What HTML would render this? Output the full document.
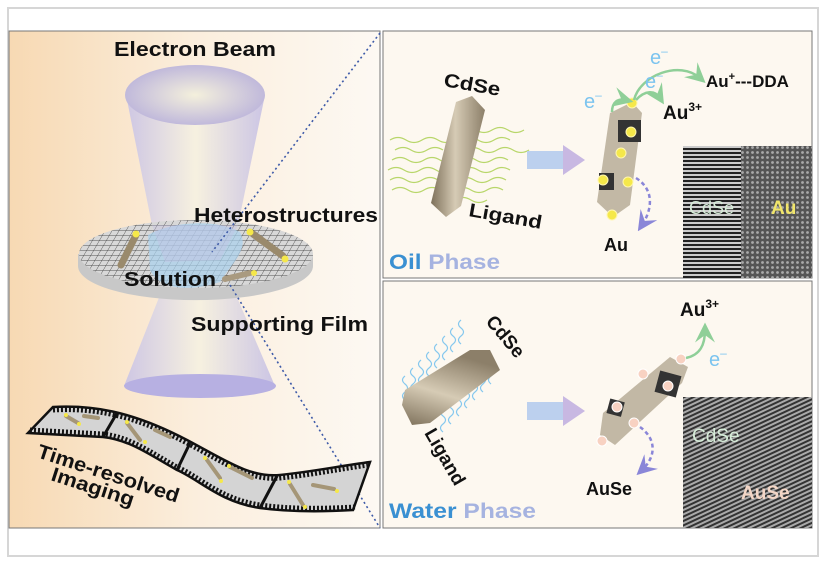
<!DOCTYPE html>
<html><head><meta charset="utf-8"><style>
html,body{margin:0;padding:0;background:#fff;}
svg{display:block;font-family:"Liberation Sans",Arial,sans-serif;font-weight:bold;}
</style></head><body>
<svg width="826" height="564" viewBox="0 0 826 564" xmlns="http://www.w3.org/2000/svg">
<defs>
<linearGradient id="lbg" x1="0" y1="0" x2="1" y2="0">
<stop offset="0" stop-color="#f7d9b3"/><stop offset="0.5" stop-color="#fbeedd"/><stop offset="1" stop-color="#fdf9f3"/></linearGradient>
<linearGradient id="beam" x1="0" y1="0" x2="1" y2="0">
<stop offset="0" stop-color="#c9c3e6"/><stop offset="0.5" stop-color="#f6f1e0"/><stop offset="1" stop-color="#c6c0e4"/></linearGradient>
<radialGradient id="topell" cx="0.5" cy="0.5" r="0.6"><stop offset="0" stop-color="#f4f0dc"/><stop offset="1" stop-color="#b6aedb"/></radialGradient>
<linearGradient id="rod" x1="0" y1="0" x2="1" y2="0">
<stop offset="0" stop-color="#7d705a"/><stop offset="0.45" stop-color="#d6cbb5"/><stop offset="1" stop-color="#8c7f69"/></linearGradient>
<linearGradient id="rod2" x1="0" y1="1" x2="0.4" y2="0">
<stop offset="0" stop-color="#7d705a"/><stop offset="0.5" stop-color="#d6cbb5"/><stop offset="1" stop-color="#8c7f69"/></linearGradient>
<pattern id="grid" width="7" height="5" patternUnits="userSpaceOnUse" patternTransform="skewX(-30)">
<rect width="7" height="5" fill="#d8d8d8"/><path d="M0 0H7M0 0V5" stroke="#444" stroke-width="0.9"/></pattern>
<pattern id="lines1" width="4" height="4" patternUnits="userSpaceOnUse"><rect width="4" height="4" fill="#ccc"/><rect width="4" height="2" fill="#222"/></pattern>
<pattern id="dots" width="5" height="5" patternUnits="userSpaceOnUse"><rect width="5" height="5" fill="#555"/><circle cx="2.5" cy="2.5" r="1.4" fill="#aaa"/></pattern>
<pattern id="diag" width="4" height="4" patternUnits="userSpaceOnUse" patternTransform="rotate(65)"><rect width="4" height="4" fill="#aaa"/><rect width="2" height="4" fill="#333"/></pattern>
<marker id="ag" markerWidth="8" markerHeight="8" refX="5" refY="4" orient="auto"><path d="M0,0 L8,4 L0,8 L3,4z" fill="#8fcf98"/></marker>
<marker id="ap" markerWidth="8" markerHeight="8" refX="5" refY="4" orient="auto"><path d="M0,0 L8,4 L0,8 L3,4z" fill="#8a86d8"/></marker>
</defs>
<rect x="8" y="8" width="810" height="548" fill="#fff" stroke="#d6d6d6" stroke-width="2"/>
<rect x="9" y="31" width="371" height="497" fill="url(#lbg)" stroke="#777" stroke-width="1"/>
<path d="M126,95 L152,225 L238,225 L265,95 Z" fill="url(#beam)" opacity="0.9"/>
<ellipse cx="195" cy="95" rx="70" ry="30" fill="url(#topell)"/>
<path d="M160,295 L124,386 L275,386 L236,295 Z" fill="url(#beam)" opacity="0.9"/>
<ellipse cx="200" cy="386" rx="76" ry="12" fill="#b7b0e2"/>
<path d="M78,254 L78,266 A117,34 0 0 0 313,266 L313,254 Z" fill="#c8c8c8"/>
<ellipse cx="196" cy="254" rx="117" ry="34" fill="url(#grid)"/>
<path d="M148,235 C170,222 215,218 240,232 C250,250 230,265 220,282 C190,292 160,290 150,270 Z" fill="#a9d2ee" opacity="0.7"/>
<path d="M152,225 L238,225 L220,260 L165,262Z" fill="#c5c0e6" opacity="0.35"/>
<g stroke-linecap="round">
<line x1="136" y1="235" x2="121" y2="265" stroke="#9a8a6c" stroke-width="7"/>
<line x1="253" y1="234" x2="283" y2="256" stroke="#9a8a6c" stroke-width="7"/>
<line x1="225" y1="279" x2="250" y2="273" stroke="#a99a80" stroke-width="6"/>
</g>
<circle cx="136" cy="234" r="3.5" fill="#f5e84a"/><circle cx="250" cy="232" r="3.5" fill="#f5e84a"/><circle cx="285" cy="259" r="3.5" fill="#f5e84a"/><circle cx="254" cy="273" r="3" fill="#f5e84a"/>
<path d="M380,33 L212,252 M230,285 L380,528" stroke="#3d5aa8" stroke-width="1.6" stroke-dasharray="2,3" fill="none"/>
<text x="114" y="56" font-size="20" fill="#111" textLength="162" lengthAdjust="spacingAndGlyphs">Electron Beam</text>
<text x="194" y="222" font-size="20" fill="#111" textLength="184" lengthAdjust="spacingAndGlyphs">Heterostructures</text>
<text x="124" y="286" font-size="20" fill="#111" textLength="92" lengthAdjust="spacingAndGlyphs">Solution</text>
<text x="191" y="331" font-size="20" fill="#111" textLength="177" lengthAdjust="spacingAndGlyphs">Supporting Film</text>
<path d="M53,407 C90,405 130,410 187,440 C225,460 250,478 280,475 C310,472 340,466 370,462 L353,510 C320,512 290,512 260,508 C220,502 200,480 177,470 C150,455 130,440 103,437 L28,433 Z" fill="#d4d4d4" stroke="#111" stroke-width="2.5"/>
<path d="M53,410 C90,408 130,413 187,443 C225,463 250,481 280,478 C310,475 340,469 368,465" fill="none" stroke="#111" stroke-width="5" stroke-dasharray="2,2"/>
<path d="M30,430 L103,434 C130,437 150,452 177,467 C200,477 220,499 260,505 C290,509 320,509 355,507" fill="none" stroke="#111" stroke-width="5" stroke-dasharray="2,2"/>
<g stroke="#111" stroke-width="3"><line x1="117" y1="413" x2="103" y2="437"/><line x1="190" y1="443" x2="177" y2="470"/><line x1="277" y1="476" x2="260" y2="508"/></g>
<g stroke="#a59677" stroke-width="4" stroke-linecap="round">
<line x1="66" y1="416" x2="78" y2="423"/><line x1="84" y1="416" x2="98" y2="418"/>
<line x1="127" y1="423" x2="140" y2="440"/><line x1="155" y1="430" x2="170" y2="437"/>
<line x1="207" y1="460" x2="220" y2="478"/><line x1="230" y1="467" x2="252" y2="478"/>
<line x1="290" y1="484" x2="303" y2="505"/><line x1="313" y1="485" x2="334" y2="489"/></g>
<g fill="#f5e84a"><circle cx="66" cy="415" r="2"/><circle cx="79" cy="424" r="2"/><circle cx="127" cy="422" r="2"/><circle cx="145" cy="442" r="2"/><circle cx="205" cy="458" r="2"/><circle cx="221" cy="481" r="2"/><circle cx="229" cy="466" r="2"/><circle cx="289" cy="482" r="2"/><circle cx="305" cy="507" r="2"/><circle cx="337" cy="491" r="2"/></g>
<text transform="translate(36,457) rotate(18)" font-size="20" fill="#111" textLength="148" lengthAdjust="spacingAndGlyphs">Time-resolved</text>
<text transform="translate(50,480) rotate(18)" font-size="20" fill="#111" textLength="86" lengthAdjust="spacingAndGlyphs">Imaging</text>

<rect x="383" y="31" width="429" height="247" fill="#fdf8f0" stroke="#777" stroke-width="1"/>
<g fill="none" stroke="#b8d66a" stroke-width="1.2">
<path d="M390,140 q8,-5 16,0 t16,0 t16,0 t16,0"/><path d="M395,150 q8,-5 16,0 t16,0 t16,0"/>
<path d="M392,160 q8,-5 16,0 t16,0 t16,0 t16,0"/><path d="M388,170 q8,-5 16,0 t16,0 t16,0 t16,0"/>
<path d="M390,180 q8,-5 16,0 t16,0 t16,0"/><path d="M392,190 q8,-5 16,0 t16,0 t16,0"/>
<path d="M460,130 q8,-5 16,0 t16,0 t16,0 t16,0"/><path d="M462,140 q8,-5 16,0 t16,0 t16,0"/>
<path d="M465,150 q8,-5 16,0 t16,0 t16,0 t16,0"/><path d="M460,160 q8,-5 16,0 t16,0 t16,0"/>
<path d="M462,170 q8,-5 16,0 t16,0 t16,0"/><path d="M458,180 q8,-5 16,0 t16,0 t16,0"/>
<path d="M455,190 q8,-5 16,0 t16,0 t16,0"/><path d="M455,200 q8,-5 16,0 t16,0"/></g>
<polygon points="456,102 472,96 485,110 461,206 446,217 431,203" fill="url(#rod)"/>
<text transform="translate(443,86) rotate(10)" font-size="19" fill="#111" textLength="57" lengthAdjust="spacingAndGlyphs">CdSe</text>
<text transform="translate(468,216) rotate(10)" font-size="19" fill="#111" textLength="74" lengthAdjust="spacingAndGlyphs">Ligand</text>
<rect x="527" y="151" width="38" height="18" fill="#bcd0ee"/><polygon points="563,145 585,160 563,175" fill="#c8b8e2"/>
<polygon points="610,113 632,102 642,113 630,205 613,217 597,202" fill="#c2b8a5"/>
<rect x="618" y="120" width="23" height="22" fill="#333"/><rect x="599" y="173" width="15" height="17" fill="#333"/>
<g fill="#f5e84a" stroke="#fff6b0" stroke-width="1"><circle cx="632" cy="103" r="5"/><circle cx="631" cy="132" r="5"/><circle cx="621" cy="153" r="5"/><circle cx="603" cy="180" r="5"/><circle cx="628" cy="182" r="5"/><circle cx="612" cy="215" r="5"/></g>
<g fill="none" stroke="#8fcf98" stroke-width="2.5">
<path d="M612,112 C612,102 618,98 626,100" marker-end="url(#ag)"/>
<path d="M634,100 C640,75 680,60 700,78" marker-end="url(#ag)"/>
<path d="M636,100 C645,90 655,90 660,98" marker-end="url(#ag)"/></g>
<path d="M636,178 C655,190 652,210 642,225" fill="none" stroke="#8a86d8" stroke-width="2.5" stroke-dasharray="4,3" marker-end="url(#ap)"/>
<text x="584" y="108" font-size="20" fill="#7cc4ef" font-weight="normal">e<tspan font-size="12" dy="-9">–</tspan></text>
<text x="650" y="64" font-size="20" fill="#7cc4ef" font-weight="normal">e<tspan font-size="12" dy="-9">–</tspan></text>
<text x="645" y="88" font-size="20" fill="#7cc4ef" font-weight="normal">e<tspan font-size="12" dy="-9">–</tspan></text>
<text x="706" y="87" font-size="17" fill="#111">Au<tspan font-size="11" dy="-7">+</tspan><tspan dy="7">---DDA</tspan></text>
<text x="663" y="119" font-size="19" fill="#111">Au<tspan font-size="12" dy="-8">3+</tspan></text>
<text x="604" y="251" font-size="18" fill="#111">Au</text>
<text x="389" y="269" font-size="21" textLength="111" lengthAdjust="spacingAndGlyphs"><tspan fill="#3a90d2">Oil </tspan><tspan fill="#a6b3e0">Phase</tspan></text>
<rect x="683" y="146" width="129" height="132" fill="url(#dots)"/>
<rect x="683" y="146" width="58" height="132" fill="url(#lines1)"/>
<text x="689" y="214" font-size="18" fill="#d6ecd8" font-weight="normal">CdSe</text>
<text x="771" y="214" font-size="19" fill="#f0e56a">Au</text>

<rect x="383" y="281" width="429" height="247" fill="#fdf8f0" stroke="#777" stroke-width="1"/>
<g fill="none" stroke="#86c8ee" stroke-width="1.2">
<path d="M405,400 q-5,-4 0,-8 t0,-8 t0,-8"/><path d="M413,392 q-5,-4 0,-8 t0,-8 t0,-8"/><path d="M421,384 q-5,-4 0,-8 t0,-8 t0,-8"/><path d="M429,376 q-5,-4 0,-8 t0,-8 t0,-8"/><path d="M437,368 q-5,-4 0,-8 t0,-8 t0,-8"/><path d="M445,360 q-5,-4 0,-8 t0,-8 t0,-8"/><path d="M453,352 q-5,-4 0,-8 t0,-8 t0,-8"/><path d="M461,344 q-5,-4 0,-8 t0,-8 t0,-8"/>
<path d="M443,432 q-5,-4 0,-8 t0,-8 t0,-8"/><path d="M451,424 q-5,-4 0,-8 t0,-8 t0,-8"/><path d="M459,416 q-5,-4 0,-8 t0,-8 t0,-8"/><path d="M467,408 q-5,-4 0,-8 t0,-8 t0,-8"/><path d="M475,400 q-5,-4 0,-8 t0,-8 t0,-8"/><path d="M483,392 q-5,-4 0,-8 t0,-8 t0,-8"/><path d="M491,384 q-5,-4 0,-8 t0,-8 t0,-8"/></g>
<polygon points="405,390 470,350 490,350 500,370 430,423 412,425 402,405" fill="url(#rod2)"/>
<text transform="translate(485,322) rotate(50)" font-size="19" fill="#111">CdSe</text>
<text transform="translate(424,433) rotate(60)" font-size="19" fill="#111">Ligand</text>
<rect x="527" y="402" width="38" height="18" fill="#bcd0ee"/><polygon points="563,396 585,411 563,426" fill="#c8b8e2"/>
<polygon points="603,413 670,357 688,367 682,383 615,445 600,435" fill="#c2b8a5"/>
<rect x="657" y="373" width="22" height="22" fill="#333" transform="rotate(15 668 384)"/>
<rect x="608" y="400" width="15" height="15" fill="#333" transform="rotate(15 615 408)"/>
<g fill="#f8d2c2" stroke="#fff" stroke-width="1"><circle cx="681" cy="359" r="5"/><circle cx="643" cy="374" r="5"/><circle cx="617" cy="407" r="5"/><circle cx="634" cy="423" r="5"/><circle cx="602" cy="441" r="5"/><circle cx="668" cy="386" r="5"/></g>
<path d="M686,358 C700,355 705,345 705,330" fill="none" stroke="#8fcf98" stroke-width="2.5" marker-end="url(#ag)"/>
<path d="M640,427 C658,440 655,458 642,470" fill="none" stroke="#8a86d8" stroke-width="2.5" stroke-dasharray="4,3" marker-end="url(#ap)"/>
<text x="709" y="366" font-size="20" fill="#7cc4ef" font-weight="normal">e<tspan font-size="12" dy="-9">–</tspan></text>
<text x="680" y="316" font-size="19" fill="#111">Au<tspan font-size="12" dy="-8">3+</tspan></text>
<text x="586" y="495" font-size="18" fill="#111">AuSe</text>
<text x="389" y="518" font-size="21" textLength="147" lengthAdjust="spacingAndGlyphs"><tspan fill="#3a90d2">Water </tspan><tspan fill="#a6b3e0">Phase</tspan></text>
<rect x="683" y="397" width="129" height="131" fill="url(#diag)"/>
<text x="692" y="442" font-size="19" fill="#d6ecd8" font-weight="normal">CdSe</text>
<text x="741" y="499" font-size="19" fill="#f3d6c6">AuSe</text>
</svg>
</body></html>
